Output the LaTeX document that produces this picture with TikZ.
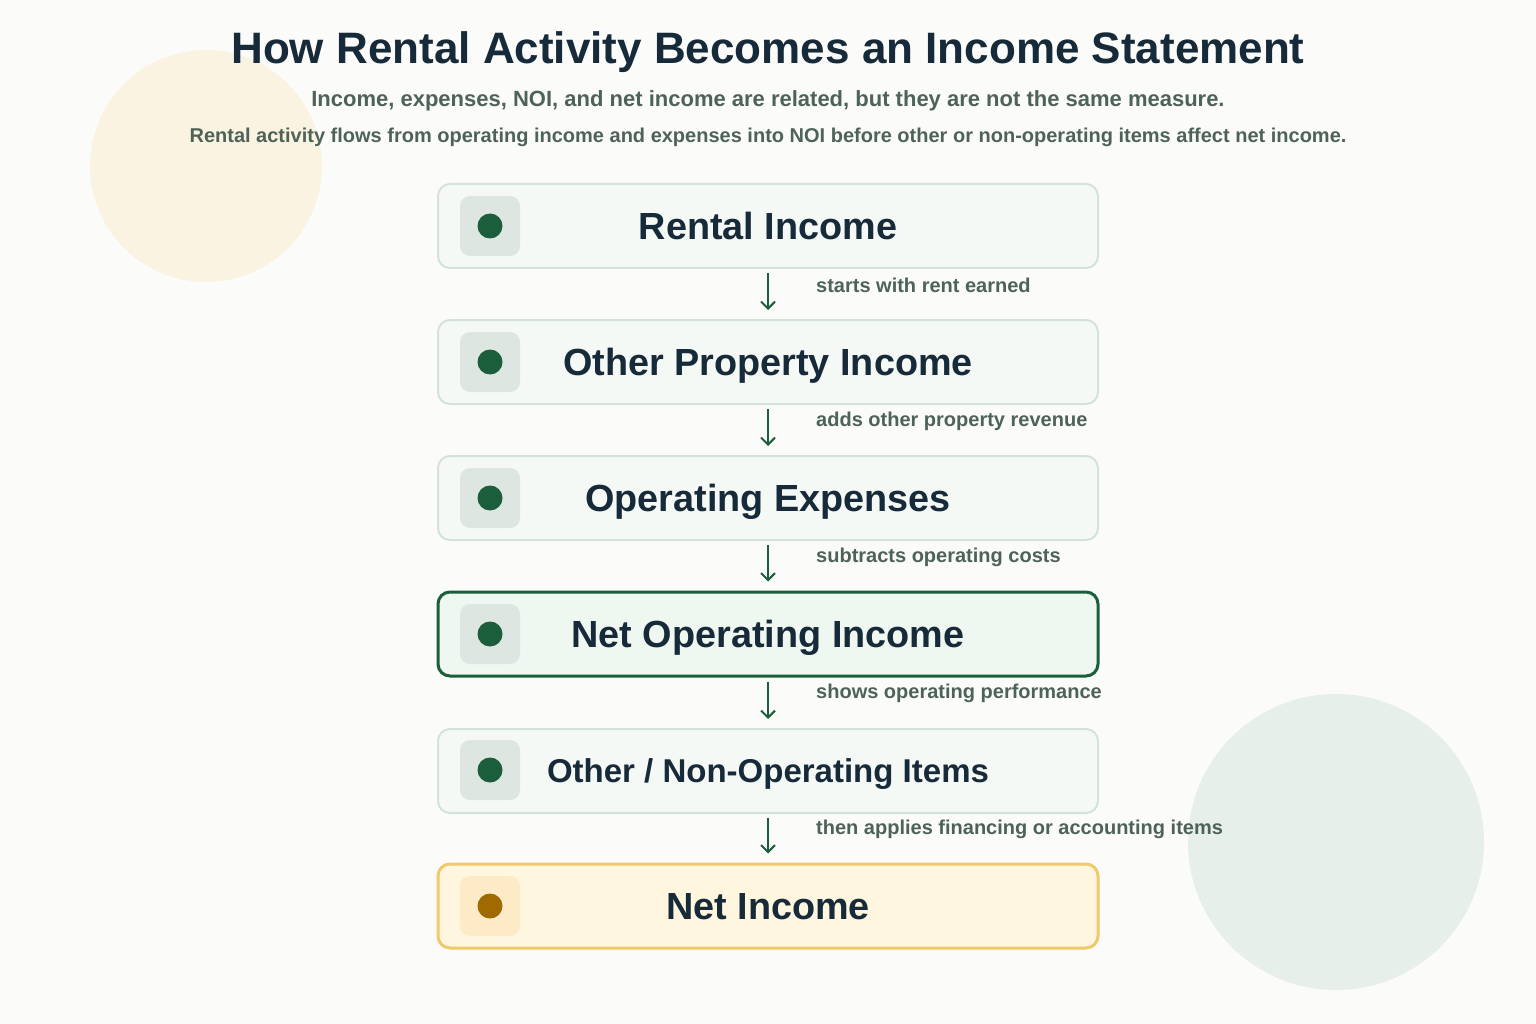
\documentclass[tikz,border=0pt]{standalone}
\usepackage{fontspec}
\setmainfont{Liberation Sans}
\usetikzlibrary{arrows.meta}
\definecolor{bgc}{HTML}{FBFCFA}
\definecolor{ink}{HTML}{172A3A}
\definecolor{subc}{HTML}{4E6358}
\definecolor{grn}{HTML}{1B5E3B}
\definecolor{boxfill}{HTML}{F5F9F6}
\definecolor{boxline}{HTML}{D5E2DA}
\definecolor{iconfill}{HTML}{DDE6E1}
\definecolor{noifill}{HTML}{EEF7F0}
\definecolor{nifill}{HTML}{FFF6E0}
\definecolor{niline}{HTML}{F0C96A}
\definecolor{niicon}{HTML}{FDEBC8}
\definecolor{nidot}{HTML}{A06A00}
\definecolor{circA}{HTML}{FBF3E2}
\definecolor{circB}{HTML}{E7EFEA}
\tikzset{
  stepbox/.style={draw=boxline, line width=2pt, fill=boxfill, rounded corners=12pt,
    minimum width=660pt, minimum height=84pt, inner sep=0pt, text=ink,
    text height=27pt, text depth=0pt,
    font=\fontsize{37.8}{45}\selectfont\bfseries},
  noibox/.style={stepbox, draw=grn, line width=3pt, fill=noifill},
  nibox/.style={stepbox, draw=niline, line width=3pt, fill=nifill},
  iconbox/.style={fill=iconfill, rounded corners=10pt, minimum width=60pt, minimum height=60pt, inner sep=0pt},
  dotc/.style={circle, fill=grn, minimum size=25pt, inner sep=0pt},
  flowarrow/.style={draw=grn, line width=2pt, -{Straight Barb[length=7pt,width=14pt,line width=2pt]}},
  lbl/.style={anchor=west, text=subc, font=\fontsize{20}{24}\selectfont\bfseries, inner sep=0pt},
}
\begin{document}
\begin{tikzpicture}[x=1pt,y=-1pt]
\useasboundingbox (0,0) rectangle (1536,1024);
\fill[bgc] (0,0) rectangle (1536,1024);
\fill[circA] (206,166) circle[radius=116pt];
\fill[circB] (1336,842) circle[radius=148pt];

\node[text=ink, font=\fontsize{44}{52}\selectfont\bfseries] (title) at (768,52) {How Rental Activity Becomes an Income Statement};
\node[text=subc, font=\fontsize{22}{26}\selectfont\bfseries] (sub1) at (768,101) {Income, expenses, NOI, and net income are related, but they are not the same measure.};
\node[text=subc, font=\fontsize{20}{24}\selectfont\bfseries] (sub2) at (768,137) {Rental activity flows from operating income and expenses into NOI before other or non-operating items affect net income.};

\node[stepbox] (b1) at (768,226) {Rental Income};
\node[stepbox] (b2) at (768,362) {Other Property Income};
\node[stepbox] (b3) at (768,498) {Operating Expenses};
\node[noibox] (b4) at (768,634) {Net Operating Income};
\node[stepbox, text height=23.6pt, font=\fontsize{33}{40}\selectfont\bfseries] (b5) at (768,771) {Other / Non-Operating Items};
\node[nibox] (b6) at (768,906) {Net Income};

\foreach \i/\y in {1/226,2/362,3/498,4/634,5/770}{
  \node[iconbox] (ic\i) at (490,\y) {};
  \node[dotc] (d\i) at (ic\i.center) {};
}
\node[iconbox, fill=niicon] (ic6) at (490,906) {};
\node[dotc, fill=nidot] (d6) at (ic6.center) {};

\draw[flowarrow] ([yshift=-4pt]b1.south) -- ([yshift=9pt]b2.north);
\draw[flowarrow] ([yshift=-4pt]b2.south) -- ([yshift=9pt]b3.north);
\draw[flowarrow] ([yshift=-4pt]b3.south) -- ([yshift=9pt]b4.north);
\draw[flowarrow] ([yshift=-4pt]b4.south) -- ([yshift=9pt]b5.north);
\draw[flowarrow] ([yshift=-4pt]b5.south) -- ([yshift=9pt]b6.north);

\node[lbl] (l1) at (816,285) {starts with rent earned};
\node[lbl] (l2) at (816,421) {adds other property revenue};
\node[lbl] (l3) at (816,557) {subtracts operating costs};
\node[lbl] (l4) at (816,693) {shows operating performance};
\node[lbl] (l5) at (816,829) {then applies financing or accounting items};
\end{tikzpicture}
\end{document}
